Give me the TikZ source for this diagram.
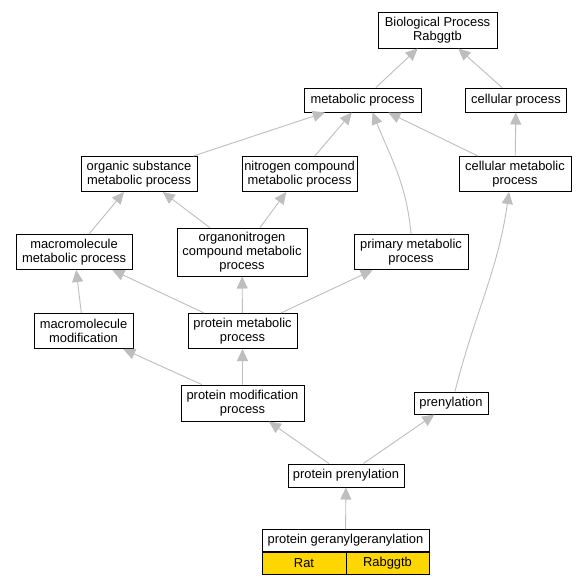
\documentclass[tikz,border=0pt]{standalone}
\usepackage{fontspec}
\setmainfont{Liberation Sans}
\usetikzlibrary{arrows.meta}
\definecolor{edgegray}{HTML}{BEBEBE}
\definecolor{gold}{HTML}{FFD700}

\begin{document}
\begin{tikzpicture}[
  x=1pt,y=1pt,
  font=\fontsize{12.9}{14}\selectfont,
  term/.style={draw=black,fill=white,line width=1pt,align=center,
               inner sep=0pt,minimum height=24pt},
  term2/.style={term,minimum height=35pt},
  term3/.style={term,minimum height=48pt},
  cell/.style={draw=black,fill=gold,line width=1pt,inner sep=0pt,
               minimum height=22pt},
  isa/.style={-{Triangle[length=12pt,width=11pt]},draw=edgegray,line width=0.9pt},
]
\useasboundingbox[fill=white] (0,0) rectangle (585,-584);

%----------------------------------------------------------------- top ---
\node[term2,minimum width=119pt,minimum height=36pt] (bp) at (437.5,-30)
  {Biological Process\\Rabggtb};
\node[term,minimum width=117pt] (met) at (362.5,-100) {metabolic process};
\node[term,minimum width=101pt] (cel) at (516,-100) {cellular process};

%------------------------------------------------------------ row two ---
\node[term2,minimum width=116pt] (orgsub) at (139,-174) {organic substance\\metabolic process};
\node[term2,minimum width=115pt] (nitro) at (299.5,-174) {nitrogen compound\\metabolic process};
\node[term2,minimum width=112pt] (celmet) at (515,-174) {cellular metabolic\\process};

%---------------------------------------------------------- row three ---
\node[term2,minimum width=116pt] (macmet) at (74,-252) {macromolecule\\metabolic process};
\node[term3,minimum width=130pt] (orgnit) at (242,-252) {organonitrogen\\compound metabolic\\process};
\node[term2,minimum width=114pt] (prim) at (411,-252) {primary metabolic\\process};

%----------------------------------------------------------- row four ---
\node[term2,minimum width=99pt] (macmod) at (83.5,-331) {macromolecule\\modification};
\node[term2,minimum width=109pt] (protmet) at (242.5,-331) {protein metabolic\\process};

%------------------------------------------------------------- bottom ---
\node[term2,minimum width=123pt,minimum height=36pt] (protmod) at (242.5,-403)
  {protein modification\\process};
\node[term,minimum width=74pt,minimum height=22pt] (pren) at (451,-403) {prenylation};
\node[term,minimum width=116pt,minimum height=23pt] (protpren) at (346,-475.5)
  {protein prenylation};

\node[term,minimum width=167pt,minimum height=22pt] (ggt) at (345.5,-540.5)
  {protein geranylgeranylation};
\node[cell,minimum width=84pt,anchor=north west] (rat) at (ggt.south west) {Rat};
\node[cell,minimum width=83pt,anchor=north east] (gene) at (ggt.south east) {Rabggtb};

%-------------------------------------------------------------- edges ---
\draw[isa] (met) -- (bp);
\draw[isa] (cel) -- (bp);
\foreach \a in {orgsub,nitro,celmet}{\draw[isa] (\a) -- (met);}
\draw[isa] (prim.north) to[out=95,in=-68] ([xshift=10pt]met.south);
\draw[isa] (celmet) -- (cel);
\draw[isa] (macmet) -- (orgsub);
\draw[isa] (orgnit) -- (orgsub);
\draw[isa] (orgnit) -- (nitro);
\draw[isa] (macmod) -- (macmet);
\foreach \b in {macmet,orgnit,prim}{\draw[isa] (protmet) -- (\b);}
\draw[isa] (protmod) -- (macmod);
\draw[isa] (protmod) -- (protmet);
\draw[isa] ([xshift=4pt]pren.north) to[out=76,in=-98] ([xshift=-6pt]celmet.south);
\draw[isa] (protpren) -- (protmod);
\draw[isa] (protpren) -- (pren);
\draw[isa] (ggt) -- (protpren);

\end{tikzpicture}
\end{document}
